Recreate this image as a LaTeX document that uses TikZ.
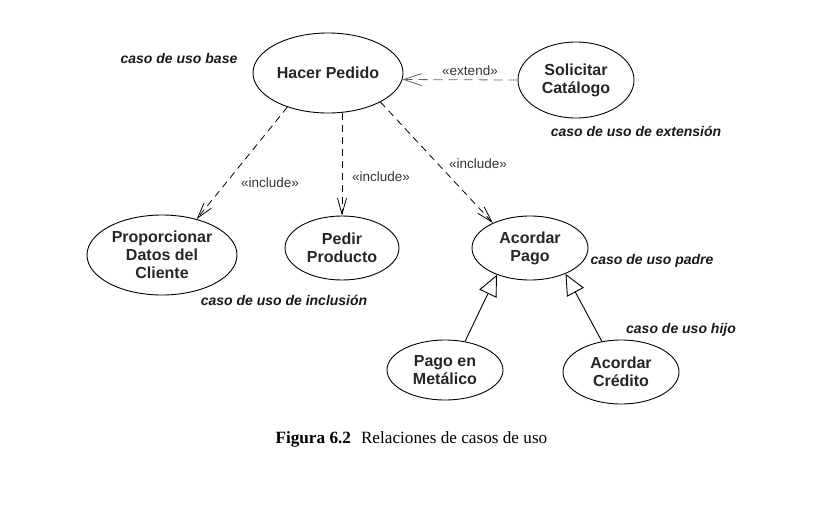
\documentclass[tikz,border=0pt]{standalone}
\usepackage{fontspec}
\setmainfont{Liberation Sans}
\newfontfamily\capfont{Liberation Serif}
\usetikzlibrary{shapes.geometric,arrows.meta}
\tikzset{
  uc/.style={draw, ellipse, line width=0.9pt, inner sep=0pt, align=center,
    font=\fontsize{16}{18}\selectfont\bfseries, text=black!85},
  note/.style={font=\fontsize{14}{16}\selectfont\bfseries\itshape, text=black!90},
  stereo/.style={font=\fontsize{13.5}{15}\selectfont, text=black!80},
  dep/.style={line width=0.8pt, dash pattern=on 7pt off 5pt,
    -{Straight Barb[length=16pt,width=9pt]}},
  ext/.style={line width=0.8pt, dash pattern=on 9pt off 6pt,
    -{Straight Barb[length=18pt,width=12pt]}},
  gen/.style={line width=0.9pt, -{Triangle[open,length=21pt,width=19pt]}}
}
\begin{document}
\begin{tikzpicture}[x=1pt,y=-1pt]
\useasboundingbox (0,0) rectangle (822,517);
\node[uc, minimum width=150pt, minimum height=80pt] (hp) at (328,73) {Hacer Pedido};
\node[uc, minimum width=116pt, minimum height=76pt] (sc) at (576,80) {Solicitar\\Catálogo};
\node[uc, minimum width=150pt, minimum height=80pt] (pd) at (162,255) {Proporcionar\\Datos del\\Cliente};
\node[uc, minimum width=114pt, minimum height=64pt] (pp) at (342,248) {Pedir\\Producto};
\node[uc, minimum width=116pt, minimum height=64pt] (ap) at (530,248) {Acordar\\Pago};
\node[uc, minimum width=116pt, minimum height=60pt] (pm) at (445,370) {Pago en\\Metálico};
\node[uc, minimum width=116pt, minimum height=64pt] (ac) at (621,372) {Acordar\\Crédito};

\draw[ext, draw=black!60] (sc.west) -- (hp.-5);
\draw[dep] (hp.220) -- (pd.46);
\draw[dep] (pp.north |- hp.south) -- (pp.north);
\draw[dep] (hp.-29) -- (ap.146);
\draw[gen] (pm.55) -- (ap.219);
\draw[gen] (ac.122) -- (ap.-36);

\node[stereo] (l1) at (470,71) {«extend»};
\node[stereo] (l2) at (270,183) {«include»};
\node[stereo] (l3) at (381,177) {«include»};
\node[stereo] (l4) at (478,164) {«include»};

\node[note] (n1) at (179,58) {caso de uso base};
\node[note] (n2) at (636,131) {caso de uso de extensión};
\node[note] (n3) at (284,300) {caso de uso de inclusión};
\node[note] (n4) at (652,261) {caso de uso padre};
\node[note] (n5) at (681,330) {caso de uso hijo};

\node[font=\capfont\fontsize{17.2}{19}\selectfont, anchor=west] (cap) at (272,439) {\textbf{Figura 6.2}\hspace{10pt}Relaciones de casos de uso};
\end{tikzpicture}
\end{document}
